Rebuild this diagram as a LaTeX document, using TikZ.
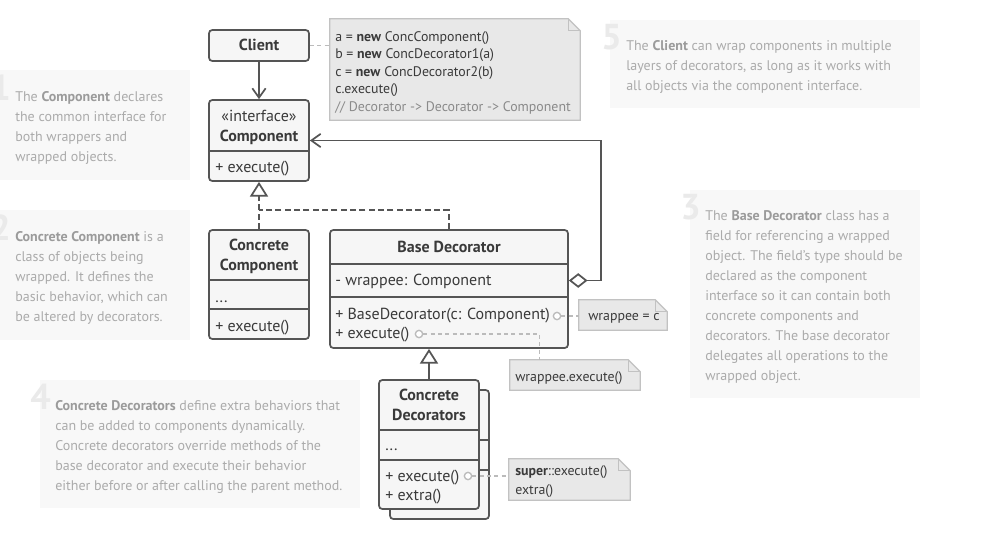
\documentclass[tikz,border=0pt]{standalone}
\usepackage{fontspec}
\setmainfont{PT Sans}
\usetikzlibrary{arrows.meta}
\definecolor{ink}{HTML}{555555}
\definecolor{txt}{HTML}{3A3A3A}
\definecolor{boxfill}{HTML}{F6F6F6}
\definecolor{notefill}{HTML}{E8E8E8}
\definecolor{noteline}{HTML}{C2C2C2}
\definecolor{panelbg}{HTML}{F8F8F8}
\definecolor{ptxt}{HTML}{ABABAB}
\definecolor{pbold}{HTML}{9B9B9B}
\definecolor{pnum}{HTML}{EAEAEA}
\definecolor{dotc}{HTML}{BBBBBB}
\definecolor{cmt}{HTML}{8A8A8A}
\newcommand\pb[1]{\textcolor{pbold}{\textbf{#1}}}
\newcommand\rbox[6][]{\node[#1,minimum width={(#4-#2)*0.75pt},minimum height={(#5-#3)*0.75pt}] (#6) at ({(#2+#4)/2},{(#3+#5)/2}) {};}
\newcommand\notebox[5]{%
 \node[inner sep=0pt,minimum width={(#4-#2)*0.75pt},minimum height={(#5-#3)*0.75pt}] (#1) at ({(#2+#4)/2},{(#3+#5)/2}) {};
 \filldraw[notestyle] (#1.north west) -- ([xshift=-9pt]#1.north east) -- ([yshift=-9pt]#1.north east) -- (#1.south east) -- (#1.south west) -- cycle;
 \draw[notestyle,fill=none] ([xshift=-9pt]#1.north east) |- ([yshift=-9pt]#1.north east);}
\newcommand\hsep[2]{\draw[sep] (#1.west |- 0,#2) -- (#1.east |- 0,#2);}
\tikzset{
 cls/.style={draw=ink,fill=boxfill,line width=1.3pt,rounded corners=2.5pt,inner sep=0pt},
 panelst/.style={fill=panelbg,inner sep=0pt},
 sep/.style={draw=ink,line width=1.3pt},
 notestyle/.style={draw=noteline,fill=notefill,line width=1pt},
 ctext/.style={font=\fontsize{12}{15}\selectfont,text=txt,inner sep=0pt,anchor=base},
 ltext/.style={ctext,anchor=base west},
 ntext/.style={font=\fontsize{10.4}{13}\selectfont,text=txt,inner sep=0pt,anchor=base west},
 ptext/.style={font=\fontsize{10.5}{15}\selectfont,text=ptxt,inner sep=0pt,anchor=base west},
 pnumst/.style={font=\fontsize{27}{27}\selectfont\bfseries,text=pnum,inner sep=0pt,anchor=base east},
 dotnode/.style={circle,draw=dotc,fill=white,line width=1pt,minimum size=5.5pt,inner sep=0pt},
 link/.style={draw=dotc,line width=1pt,dash pattern=on 3pt off 2.5pt},
 assoc/.style={draw=ink,line width=1.3pt,-{Straight Barb[length=7pt,width=10pt,line width=1.3pt]}},
 implarrow/.style={draw=ink,line width=1.3pt,-{Triangle[length=11pt,width=13.5pt,fill=white,line width=1.3pt]}},
 impldash/.style={draw=ink,line width=1.3pt,dash pattern=on 4.5pt off 2.5pt},
 agg/.style={draw=ink,line width=1.3pt,{Diamond[length=14pt,width=11pt,fill=white,line width=1.3pt]}-{Straight Barb[length=7pt,width=10pt,line width=1.3pt]}},
}
\begin{document}
\begin{tikzpicture}[x=0.75pt,y=-0.75pt]
\fill[white] (0,0) rectangle (988,540);
\useasboundingbox (0,0) rectangle (988,540);

% ---------- description panels ----------
\rbox[panelst]{-10}{70}{190}{180}{p1}
\node[pnumst] (p1n) at (11,100) {1};
\node[ptext] (p1a) at (15,101) {The \pb{Component} declares};
\node[ptext] (p1b) at (15,121) {the common interface for};
\node[ptext] (p1c) at (15,141) {both wrappers and};
\node[ptext] (p1d) at (15,161) {wrapped objects.};

\rbox[panelst]{-10}{210}{190}{340}{p2}
\node[pnumst] (p2n) at (11,240) {2};
\node[ptext] (p2a) at (15,241) {\pb{Concrete Component} is a};
\node[ptext] (p2b) at (15,261) {class of objects being};
\node[ptext] (p2c) at (15,281) {wrapped. It defines the};
\node[ptext] (p2d) at (15,301) {basic behavior, which can};
\node[ptext] (p2e) at (15,321) {be altered by decorators.};

\rbox[panelst]{690}{190}{920}{398}{p3}
\node[pnumst] (p3n) at (701,219) {3};
\node[ptext] (p3a) at (705,220) {The \pb{Base Decorator} class has a};
\node[ptext] (p3b) at (705,240) {field for referencing a wrapped};
\node[ptext] (p3c) at (705,260) {object. The field’s type should be};
\node[ptext] (p3d) at (705,280) {declared as the component};
\node[ptext] (p3e) at (705,300) {interface so it can contain both};
\node[ptext] (p3f) at (705,320) {concrete components and};
\node[ptext] (p3g) at (705,340) {decorators. The base decorator};
\node[ptext] (p3h) at (705,360) {delegates all operations to the};
\node[ptext] (p3i) at (705,380) {wrapped object.};

\rbox[panelst]{40}{380}{360}{508}{p4}
\node[pnumst] (p4n) at (51,409) {4};
\node[ptext] (p4a) at (55,410) {\pb{Concrete Decorators} define extra behaviors that};
\node[ptext] (p4b) at (55,430) {can be added to components dynamically.};
\node[ptext] (p4c) at (55,450) {Concrete decorators override methods of the};
\node[ptext] (p4d) at (55,470) {base decorator and execute their behavior};
\node[ptext] (p4e) at (55,490) {either before or after calling the parent method.};

\rbox[panelst]{610}{20}{920}{108}{p5}
\node[pnumst] (p5n) at (622,49) {5};
\node[ptext] (p5a) at (626,50) {The \pb{Client} can wrap components in multiple};
\node[ptext] (p5b) at (626,70) {layers of decorators, as long as it works with};
\node[ptext] (p5c) at (626,90) {all objects via the component interface.};

% ---------- code note ----------
\notebox{code}{330}{19}{580}{120}
\node[ntext] (code1) at (335,41) {a = \textbf{new} ConcComponent()};
\node[ntext] (code2) at (335,58.5) {b = \textbf{new} ConcDecorator1(a)};
\node[ntext] (code3) at (335,76) {c = \textbf{new} ConcDecorator2(b)};
\node[ntext] (code4) at (335,93.5) {c.execute()};
\node[ntext,text=cmt] (code5) at (335,111) {// Decorator -> Decorator -> Component};

% ---------- classes ----------
\rbox[cls]{209}{30}{309}{61}{client}
\node[ctext] (clientt) at (259,50) {\textbf{Client}};

\rbox[cls]{209}{100}{309}{181}{comp}
\hsep{comp}{151}
\node[ctext] (compa) at (259,121) {«interface»};
\node[ctext] (compb) at (259,141) {\textbf{Component}};
\node[ltext] (compc) at (215,172) {+ execute()};

\rbox[cls]{209}{230}{309}{339}{cc}
\hsep{cc}{280}
\hsep{cc}{309}
\node[ctext] (cca) at (259,250.5) {\textbf{Concrete}};
\node[ctext] (ccb) at (259,270) {\textbf{Component}};
\node[ltext] (ccc) at (215,302) {...};
\node[ltext] (ccd) at (215,331) {+ execute()};

\rbox[cls]{330}{230}{568}{348}{bd}
\hsep{bd}{264}
\hsep{bd}{297}
\node[ctext] (bda) at (449,252) {\textbf{Base Decorator}};
\node[ltext] (bdb) at (335,285) {- wrappee: Component};
\node[ltext] (bdc) at (335,319) {+ BaseDecorator(c: Component)};
\node[ltext] (bdd) at (335,338) {+ execute()};
\coordinate (bdrow) at (449,280.5);

\rbox[cls]{390}{390}{489}{519}{cdback}
\hsep{cdback}{440}
\hsep{cdback}{470}
\rbox[cls]{379}{380}{479}{509}{cd}
\hsep{cd}{430}
\hsep{cd}{460}
\node[ctext] (cda) at (429,400) {\textbf{Concrete}};
\node[ctext] (cdb) at (429,420) {\textbf{Decorators}};
\node[ltext] (cdc) at (385,450) {...};
\node[ltext] (cdd) at (385,481) {+ execute()};
\node[ltext] (cde) at (385,500) {+ extra()};

% ---------- notes ----------
\notebox{n1}{579}{300}{667}{330}
\node[ntext] (n1t) at (588,320) {wrappee = c};
\notebox{n2}{510}{360}{640}{390}
\node[ntext] (n2t) at (515,381) {wrappee.execute()};
\notebox{n3}{509}{459}{630}{500}
\node[ntext] (n3a) at (515,475) {\textbf{super}::execute()};
\node[ntext] (n3b) at (515,494) {extra()};

\node[dotnode] (c1) at (557,316) {};
\node[dotnode] (c2) at (419,334) {};
\node[dotnode] (c3) at (468,476) {};

% ---------- connectors ----------
\draw[link] (client.east) -- (client.east -| code.west);
\draw[assoc] (client.south) -- (comp.north);
\coordinate (join) at (259,210);
\draw[implarrow,dash pattern=on 4.5pt off 2.5pt] (cc.north) -- (comp.south);
\draw[impldash] (bd.north) |- (join);
\draw[agg] (bdrow -| bd.east) -- ++(32,0) |- (comp.east);
\draw[implarrow] (cd.north) -- (cd.north |- bd.south);
\draw[link] (c1.east) -- (c1.east -| n1.west);
\draw[link] (c2.east) -| ([xshift=22.5pt]n2.north west);
\draw[link] (c3.east) -- (c3.east -| n3.west);
\end{tikzpicture}
\end{document}
